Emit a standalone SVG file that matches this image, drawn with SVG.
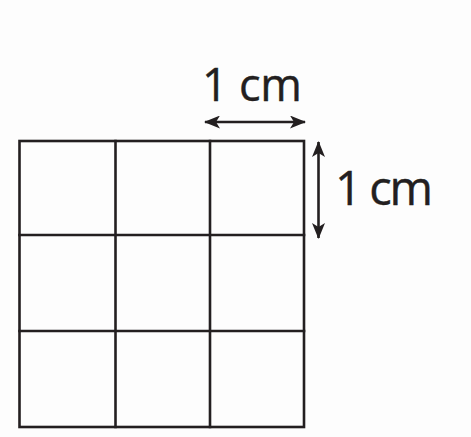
<svg xmlns="http://www.w3.org/2000/svg" width="471" height="437" viewBox="0 0 471 437">
<style>
.g{stroke:#231f20;stroke-width:2.6;fill:none;stroke-linecap:square}
.a{stroke:#231f20;stroke-width:2.6;fill:none}
.t{font-family:"Open Sans","Noto Sans",sans-serif;fill:#231f20;stroke:#231f20;stroke-width:0.4}
</style>
<defs>
<marker id="ah" viewBox="0 0 16 13" refX="15" refY="6.5" markerWidth="16" markerHeight="13" markerUnits="userSpaceOnUse" orient="auto-start-reverse">
<path d="M0,0 L16,6.5 L0,13 L4,6.5 Z" fill="#231f20"/>
</marker>
</defs>
<rect width="471" height="437" fill="#fdfdfd"/>
<g id="grid">
<rect class="g" x="19.5" y="141" width="284.5" height="286"/>
<line class="g" x1="115.5" y1="141" x2="115.5" y2="427"/>
<line class="g" x1="210" y1="141" x2="210" y2="427"/>
<line class="g" x1="19.5" y1="235" x2="304" y2="235"/>
<line class="g" x1="19.5" y1="331" x2="304" y2="331"/>
</g>
<g id="connectors">
<line class="a" x1="205" y1="122" x2="305" y2="122" marker-start="url(#ah)" marker-end="url(#ah)"/>
<line class="a" x1="318.5" y1="142" x2="318.5" y2="238" marker-start="url(#ah)" marker-end="url(#ah)"/>
</g>
<g id="label-top">
<text class="t" x="202" y="101" font-size="45" textLength="100">1 cm</text>
</g>
<g id="label-right">
<text class="t" x="335" y="205" font-size="47" textLength="98">1 cm</text>
</g>
</svg>
